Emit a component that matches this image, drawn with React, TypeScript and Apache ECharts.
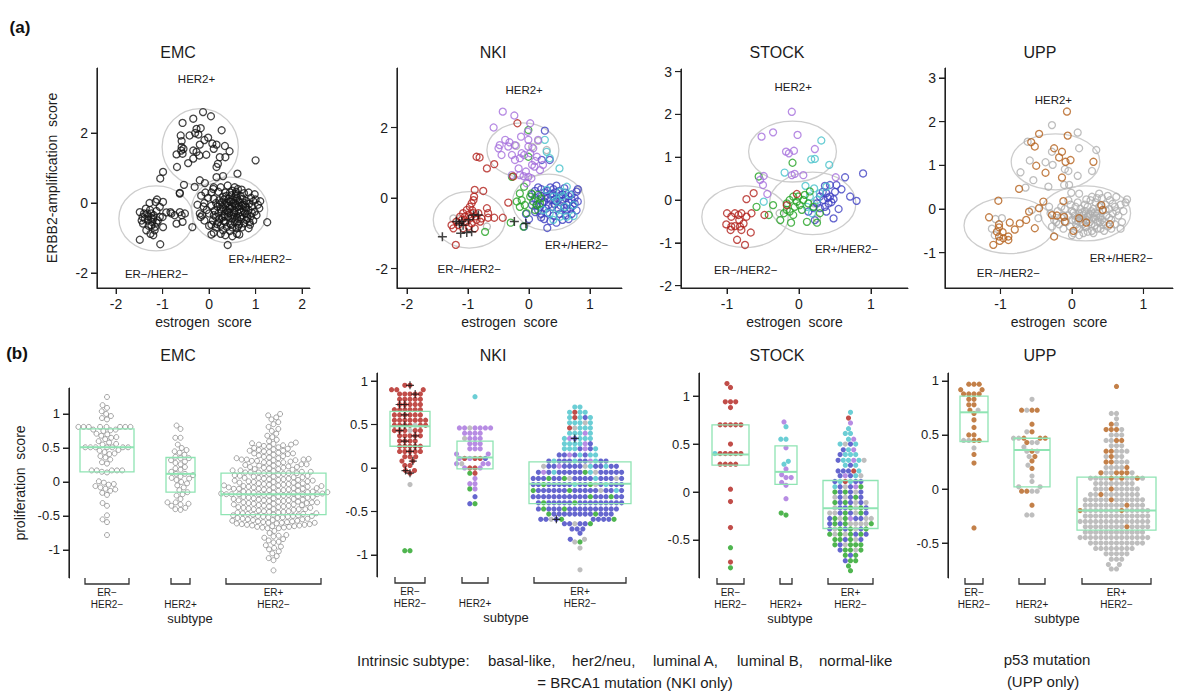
import React, { useEffect, useRef } from "react";
import * as echarts from "echarts";

const FONT = "'Liberation Sans', Arial, Helvetica, sans-serif";

// ================= DATA: top row (x = estrogen score, y = ERBB2-amplification score) =================
const emcTopPoints: number[][] = [
  [-0.13,2.6],[0.04,2.48],[-0.34,2.41],[-0.57,2.29],[0.27,2.08],[-0.27,2.12],[-0.18,2.14],[-0.42,1.93],[-0.23,1.96],[-0.02,1.87],
  [-0.61,1.93],[-0.59,1.77],[-0.59,1.6],[0.07,1.7],[0.16,1.67],[0.34,1.63],[-0.2,1.67],[-0.34,1.5],[-0.27,1.46],[0.44,1.48],
  [-0.57,1.41],[-0.7,1.39],[-0.21,1.36],[-0.06,1.38],[0.23,1.31],[0.35,1.31],[-0.45,1.14],[-0.34,1.27],[0.19,1.12],[0.16,1.03],
  [-0.69,1.03],[1.0,1.22],[-0.99,0.89],[-1.05,0.7],[0.3,0.77],[0.61,0.84],[0.16,0.74],[-0.2,0.65],[-0.09,0.57],[-0.54,0.52],
  [-0.31,0.46],[0.09,0.4],[-0.63,0.29],[-0.17,0.21],[-0.6,1.5],[-0.55,1.55],[-0.3,2.0],[-0.1,1.8],[0.1,1.55],
  [-1.28,0],[-1.12,0.1],[-1.15,0.03],[-1.36,-0.16],[-1.49,-0.26],[-1.4,-0.3],[-1.24,-0.3],[-1.13,-0.23],[-1.06,-0.11],[-1.2,-0.45],
  [-1.31,-0.5],[-1.42,-0.59],[-1.13,-0.56],[-1.24,-0.64],[-1.35,-0.78],[-1.26,-0.88],[-1.49,-1.05],[-1.05,-1.18],[-1.2,-0.92],[-0.99,-0.69],
  [-1.0,-0.4],[-0.92,-0.27],[-0.83,-0.26],[-0.74,-0.35],[-0.63,-0.26],[-0.59,-0.35],[-0.52,-0.3],[-0.57,-0.54],[-0.7,-0.59],[-0.36,-0.69],
  [-0.63,0.27],[-0.99,0.03],[-1.38,-0.45],[-1.31,-0.38],[-1.19,-0.35],[-1.1,-0.5],[-1.43,-0.4],[-1.17,-0.78],[-1.06,-0.4],[-0.81,-0.3],
  [-1.27,-0.2],[-1.22,-0.55],[-1.3,-0.65],[-1.16,-0.68],[-1.33,-0.3],[-1.25,-0.42],[-1.45,-0.5],
  [0.2,0.32],[0.35,0.3],[0.5,0.35],[0.62,0.4],[0.75,0.28],[0.85,0.3],[0.48,0.22],[0.58,0.25],[0.3,0.18],[0.68,0.2],[0.9,0.15],[1.0,0.1],
  [0.1,0.12],[0.22,0.08],[0.32,0.1],[0.42,0.12],[0.52,0.1],[0.62,0.08],[0.72,0.12],[0.8,0.06],[0.95,0.05],[0.15,0.0],[0.27,0.02],[0.38,0.0],
  [0.47,0.03],[0.56,-0.01],[0.66,0.02],[0.76,0.0],[0.86,-0.02],[1.05,-0.05],
  [0.05,-0.08],[0.18,-0.1],[0.3,-0.12],[0.41,-0.08],[0.5,-0.1],[0.6,-0.12],[0.7,-0.08],[0.8,-0.13],[0.92,-0.1],[1.08,-0.15],[0.25,-0.18],
  [0.36,-0.2],[0.45,-0.17],[0.55,-0.22],[0.65,-0.18],[0.75,-0.22],[0.85,-0.2],[0.98,-0.25],[0.12,-0.22],
  [0.0,-0.3],[0.2,-0.3],[0.33,-0.32],[0.43,-0.28],[0.52,-0.33],[0.63,-0.3],[0.72,-0.35],[0.82,-0.32],[0.9,-0.38],[1.02,-0.35],[0.15,-0.4],
  [0.28,-0.42],[0.4,-0.4],[0.5,-0.45],[0.6,-0.42],[0.7,-0.45],[0.8,-0.48],[0.95,-0.5],[0.08,-0.5],
  [0.2,-0.55],[0.32,-0.52],[0.45,-0.58],[0.55,-0.55],[0.65,-0.6],[0.75,-0.58],[0.88,-0.62],[0.25,-0.65],[0.38,-0.68],[0.5,-0.7],[0.6,-0.72],
  [0.7,-0.7],[0.15,-0.7],[0.05,-0.62],[0.3,-0.78],[0.45,-0.8],
  [-0.2,-0.3],[-0.18,-0.4],[-0.12,-0.1],[-0.1,0.0],[-0.05,-0.2],[-0.25,-0.05],[-0.15,-0.35],[-0.08,0.3],[-0.02,0.15],[0.05,0.3],[0.1,0.45],
  [0.25,0.45],[0.4,0.5],[0.55,0.45],[0.7,0.38],[0.45,0.3],[0.52,0.0],[0.58,-0.05],[0.35,-0.05],[0.6,0.15],[0.4,-0.25],[0.48,-0.35],
  [0.68,-0.25],[0.78,-0.1],[0.55,-0.4],[0.35,-0.55],[0.62,-0.52],[0.82,-0.42],[0.22,-0.45],[0.1,-0.35],
  [0.4,-1.2],[0.5,-0.95],[0.25,-0.88],[0.6,-0.88],[0.85,-0.72],[0.1,-0.85],[0.05,-0.9],[1.25,-0.55],[1.1,0.05],[0.98,0.25],[0.0,-0.65],
  [-0.1,-0.5],[0.65,-0.9],[0.35,-0.92],[0.44,0.05],[0.64,-0.08],[0.54,-0.28],[0.74,-0.05],[0.33,-0.38],[0.57,0.2],[0.87,-0.55],[0.23,-0.04],
  [0.37,0.2],[0.67,-0.4],[0.47,-0.62],[0.27,-0.25],[0.77,-0.3],[0.58,0.32],[0.17,-0.6],[0.92,-0.28],[0.43,-0.13],[0.63,-0.65]
];

const nkiTopHer2: number[][] = [
  [-0.43,2.45],[-0.24,2.34],[-0.58,2.0],[0.02,2.12],[-0.02,1.88],[-0.13,1.74],[-0.01,1.65],[-0.39,1.65],[-0.32,1.58],[-0.48,1.5],
  [-0.5,1.41],[-0.45,1.22],[-0.28,1.22],[-0.23,1.5],[-0.12,1.27],[-0.08,1.22],[-0.15,1.13],[-0.01,1.46],[0.07,1.41],[0.02,1.27],
  [0.05,0.94],[0.09,0.89],[0.18,0.79],[0.23,0.94],[-0.17,0.84],[-0.15,0.65],[-0.09,0.62],[-0.01,0.6],[0.04,0.56],[-0.04,0.42],
  [-0.28,0.65],[-0.23,1.08],[0.13,1.17],[-0.34,1.46],[0.15,1.65],[0.1,1.05],[-0.05,0.75]
];
const nkiTopBasal: number[][] = [
  [-0.19,2.12],[-0.86,1.17],[-0.81,1.15],[-0.69,0.84],[-0.57,0.96],[-0.26,0.61],[-0.34,-0.13],[-0.89,0.23],[-0.75,0.2],[-0.9,0.04],
  [-0.91,-0.06],[-0.94,-0.15],[-0.97,-0.25],[-0.69,-0.29],[-0.67,-0.43],[-1.02,-0.34],[-1.08,-0.43],[-1.13,-0.53],[-0.99,-0.48],[-0.91,-0.43],
  [-0.83,-0.43],[-0.78,-0.58],[-0.67,-0.56],[-0.57,-0.56],[-0.43,-0.56],[-0.86,-0.62],[-0.94,-0.72],[-1.02,-0.67],[-1.1,-0.62],[-1.19,-0.67],
  [-1.24,-0.86],[-1.16,-0.77],[-1.08,-0.86],[-0.99,-0.81],[-0.89,-0.86],[-0.8,-0.67],[-1.2,-1.33],[-1.27,-0.77],[-1.05,-0.53],[-0.97,-0.58],
  [-0.93,-0.35],[-0.88,-0.52]
];
const nkiTopNormal: number[][] = [
  [-0.01,1.93],[-0.01,1.17],[-0.28,0.6],[-0.08,0.32],[-0.15,0.13],[-0.72,-0.96],[-0.3,-0.7],[-0.12,-0.06],[-0.07,-0.2],[0.02,0.04],
  [0.07,-0.1],[0.13,-0.2],[0.18,-0.15],[-0.15,-0.25],[-0.04,-0.43],[0.1,-0.34],[0.15,0.09],[0.2,-0.01],[-0.09,-0.81],[0.04,0.13],[-0.2,-0.1]
];
const nkiTopLumB: number[][] = [
  [0.26,1.65],[0.29,1.31],[0.34,1.13],[0.5,0.84],[0.4,0.04],[0.45,-0.06],[0.59,-0.25],[0.51,-0.53],[0.4,-0.62],[0.62,-0.53],
  [0.73,-0.51],[0.67,0.09],[0.73,-0.2],[0.29,0.23],[0.62,0.32],[0.34,-0.43],[0.51,0.18],[0.23,-0.34],[0.55,0.05],[0.47,-0.3]
];
const nkiTopLumA: number[][] = [
  [0.26,1.91],[0.21,1.08],[0.34,1.08],[-0.08,-0.81],
  [0.05,0.1],[0.1,0.2],[0.15,0.3],[0.2,0.25],[0.25,0.15],[0.3,0.2],[0.35,0.1],[0.4,0.25],[0.45,0.15],[0.5,0.2],[0.55,0.1],[0.6,0.15],
  [0.65,0.05],[0.7,0.1],[0.78,0.18],[0.1,0.0],[0.15,-0.05],[0.2,0.05],[0.25,-0.1],[0.3,0.0],[0.35,-0.05],[0.4,0.05],[0.45,-0.1],[0.5,0.0],
  [0.55,-0.08],[0.6,0.0],[0.65,-0.12],[0.7,-0.05],[0.75,0.0],[0.8,-0.1],[0.12,-0.2],[0.18,-0.25],[0.22,-0.15],[0.28,-0.3],[0.32,-0.2],
  [0.38,-0.25],[0.42,-0.18],[0.48,-0.3],[0.52,-0.22],[0.58,-0.28],[0.62,-0.2],[0.68,-0.3],[0.72,-0.22],[0.78,-0.35],[0.1,-0.4],[0.2,-0.45],
  [0.3,-0.42],[0.4,-0.5],[0.5,-0.45],[0.6,-0.5],[0.7,-0.45],[0.25,-0.6],[0.35,-0.65],[0.45,-0.7],[0.55,-0.62],[0.65,-0.6],[0.3,-0.85],
  [0.2,-0.55],[0.0,-0.6],[-0.05,-0.45],[0.45,0.35],[0.35,0.3],[0.58,0.28],[0.05,-0.2],[0.42,-0.05],[0.52,0.08],[0.28,0.05],[0.38,0.12],
  [0.62,-0.35],[0.15,-0.35],[0.8,0.25],[0.75,-0.15]
];
const nkiTopUnclass: number[][] = [
  [-0.21,1.48],[0.15,1.62],[0.29,1.36],[-1.24,-0.58],[-0.69,-0.81],[0.4,-0.15],[0.51,-0.1],[0.81,0.23],[0.18,-0.48],[-1.15,-0.6],[0.05,1.45]
];
const nkiTopBrca1: number[][] = [
  [-1.42,-1.1],[-1.19,-0.67],[-1.14,-0.72],[-1.1,-0.67],[-1.08,-0.77],[-1.12,-1.0],[-1.02,-0.98],[-0.94,-0.96],[-0.91,-0.48],[-0.83,-0.48],
  [-0.99,-0.62],[-0.24,-0.67],[-0.05,-0.72]
];

const stockTopHer2: number[][] = [
  [-0.1,2.06],[-0.52,1.48],[-0.36,1.58],[-0.02,1.52],[0.22,1.19],[-0.18,1.13],[-0.14,1.09],[-0.07,1.15],[-0.1,0.58],[-0.06,0.61],
  [0.06,0.58],[-0.49,0.56],[-0.54,0.47],[-0.5,0.35],[-0.44,0.14],[0.51,0.53]
];
const stockTopLumB: number[][] = [
  [0.31,1.39],[0.17,0.95],[0.22,0.96],[0.42,0.82],[-0.2,0.64],[0.09,0.33],[0.21,0.27],[-0.49,-0.04],[0.15,0.08],[0.25,0.0],
  [0.29,0.16],[0.11,-0.16],[0.18,-0.31],[0.38,0.31]
];
const stockTopNormal: number[][] = [
  [-0.09,0.87],[-0.56,0.55],[-0.59,-0.16],[-0.36,-0.12],[-0.42,-0.35],[-0.26,-0.47],[-0.17,-0.08],[-0.13,0.0],[-0.08,0.08],[-0.03,-0.04],
  [0.01,-0.12],[0.06,0.0],[0.08,0.12],[-0.13,-0.27],[-0.08,-0.35],[-0.11,-0.53],[0.11,-0.51],[0.25,-0.53],[0.29,-0.31],[-0.17,-0.23],
  [0.04,-0.23],[-0.06,-0.16],[0.13,-0.08],[-0.01,0.08],[0.2,-0.16],[-0.21,-0.31],[0.15,0.2]
];
const stockTopBasal: number[][] = [
  [-0.63,0.16],[-0.73,0.02],[-1.0,-0.31],[-0.89,-0.31],[-0.84,-0.35],[-0.8,-0.31],[-0.66,-0.31],[-0.73,-0.39],[-0.94,-0.39],[-0.83,-0.47],
  [-0.77,-0.55],[-1.01,-0.57],[-0.94,-0.62],[-0.89,-0.61],[-0.82,-0.62],[-0.95,-0.7],[-0.8,-0.7],[-0.67,-0.76],[-0.86,-0.93],[-0.75,-1.05],
  [-0.48,-0.35],[-0.17,-0.12],[-0.03,0.14]
];
const stockTopLumA: number[][] = [
  [0.36,0.33],[0.43,0.35],[0.52,0.35],[0.59,0.25],[0.64,0.53],[0.71,0.08],[0.8,-0.02],[0.55,-0.21],[0.48,-0.43],[0.38,0.16],
  [0.29,0.08],[0.34,0.0],[0.41,-0.08],[0.25,-0.08],[0.36,-0.16],[0.29,-0.19],[0.2,-0.19],[0.43,0.08],[0.48,0.02],[0.38,-0.27],
  [0.13,-0.27],[0.22,-0.47],[0.5,0.19],[0.33,0.19],[0.89,0.62],[0.45,-0.05],[0.4,0.05]
];
const stockTopUnclass: number[][] = [[-0.27,-0.31],[0.21,-0.08],[0.25,-0.43]];

const uppTopP53: number[][] = [
  [-0.07,2.23],[-0.46,1.72],[-0.06,1.68],[-0.57,1.53],[-0.52,1.43],[-0.25,1.39],[-0.14,1.31],[-0.18,1.18],[-0.09,1.08],[-0.02,1.12],
  [-0.5,0.99],[0.3,1.08],[-0.37,0.83],[-0.14,0.72],[-0.74,0.46],[-0.4,0.17],[-0.12,0.18],[-1.03,0.19],[-1.16,-0.19],[-1.02,-0.35],
  [-1.02,-0.42],[-0.97,-0.53],[-1.05,-0.52],[-1.02,-0.63],[-0.96,-0.67],[-0.89,-0.63],[-0.87,-0.31],[-0.8,-0.47],[-0.89,-0.71],[-1.01,-0.73],
  [-1.1,-0.82],[-0.73,-0.33],[-0.64,-0.25],[-0.52,-0.44],[-0.6,-0.06],[-0.46,0.02],[-0.28,-0.14],[-0.21,-0.15],[-0.25,-0.63],[-0.11,-0.18],
  [-0.1,-0.29],[0.02,-0.5],[0.1,-0.21],[0.2,-0.31],[0.41,0.09],[0.43,-0.02],[0.53,-0.35]
];
const uppTopWild: number[][] = [
  [-0.28,1.92],[0.08,1.75],[-0.62,1.54],[-0.28,1.31],[0.1,1.39],[0.34,1.35],[-0.59,1.11],[-0.37,1.07],[-0.27,1.01],[-0.1,0.91],
  [-0.05,0.87],[-0.72,0.84],[0.28,0.87],[0.08,0.76],[-0.54,0.66],[-0.33,0.51],[-0.65,0.49],[-0.11,0.55],[-0.04,0.55],[-0.01,0.37],
  [-0.56,-0.02],[-0.47,-0.21],[-1.07,-0.23],[-0.98,-0.21],[-1.08,-0.6],[-0.32,0.05],[-1.12,-0.45],
  [-0.3,-0.1],[-0.25,-0.25],[-0.2,-0.05],[-0.18,-0.35],[-0.15,-0.2],[-0.12,-0.45],[-0.1,0.0],[-0.08,-0.3],[-0.05,-0.15],[-0.03,-0.4],
  [0.0,-0.05],[0.0,-0.25],[0.02,-0.55],[0.04,-0.15],[0.05,0.05],[0.06,-0.35],[0.08,-0.2],[0.1,-0.1],[0.1,-0.45],[0.12,0.0],[0.13,-0.3],
  [0.15,-0.15],[0.16,-0.55],[0.18,0.1],[0.18,-0.05],[0.2,-0.25],[0.2,-0.4],[0.22,0.05],[0.23,-0.15],[0.25,-0.3],[0.26,0.2],[0.27,-0.05],
  [0.28,-0.5],[0.3,0.0],[0.3,-0.2],[0.32,-0.38],[0.33,0.15],[0.35,-0.1],[0.36,-0.28],[0.38,0.05],[0.4,-0.18],[0.4,-0.45],[0.42,0.25],
  [0.43,-0.05],[0.45,-0.3],[0.47,0.1],[0.48,-0.15],[0.5,-0.4],[0.52,0.0],[0.53,0.2],[0.55,-0.25],[0.57,-0.1],[0.6,0.05],[0.6,-0.35],
  [0.62,0.28],[0.65,-0.15],[0.68,0.1],[0.7,-0.3],[0.72,-0.05],[0.75,0.15],[0.77,0.22],[0.68,-0.45],[0.05,-0.25],[0.15,-0.35],[0.25,-0.12],
  [0.35,-0.45],[0.45,-0.5],[0.08,0.15],[0.28,0.28],[0.38,0.35],[0.5,0.3],[0.02,-0.08],[0.12,-0.22],[0.22,-0.18],[0.32,-0.08],[0.42,-0.25],
  [0.52,-0.2],[0.17,-0.12],[0.27,-0.35],[0.37,-0.2],[0.47,-0.02],[0.57,0.12],[0.07,-0.42],[-0.02,0.1],[-0.12,-0.15],[-0.22,-0.3],[0.0,-0.6],
  [0.1,-0.6],[0.3,-0.55],[0.55,-0.45],[-0.05,0.2],[0.2,0.22],[0.4,0.08],[0.62,-0.05],[0.1,0.35],[0.22,-0.52],[-0.15,0.05],[-0.28,-0.4],
  [0.35,0.25],[0.14,-0.08],[0.24,-0.24],[0.34,-0.16],[0.44,-0.36],[0.19,-0.42],[0.09,-0.28],[0.29,-0.1],[0.39,-0.3]
];

// ================= DATA: bottom row (proliferation score by subtype group) =================
const emcErNeg: number[] = [
  1.25,1.13,1.09,1.04,1.00,0.97,0.94,0.92,
  0.81,0.81,0.81,0.81,0.81,0.81,0.81,0.81,
  0.77,0.77,0.76,0.75,
  0.71,0.70,0.68,0.66,0.65,0.63,0.60,0.58,0.56,0.55,
  0.51,0.51,0.51,0.51,0.51,0.51,0.51,
  0.47,0.46,0.44,0.42,0.41,0.38,0.36,0.33,0.29,0.27,
  0.17,0.17,0.17,0.17,0.17,0.15,0.14,
  0.01,-0.01,-0.03,-0.04,-0.06,-0.08,-0.10,-0.11,-0.13,
  -0.16,-0.19,-0.31,-0.35,-0.49,-0.55,-0.59,-0.78
];
const emcHer2: number[] = [
  0.83,0.78,0.65,0.65,0.55,0.50,0.47,0.45,0.43,0.40,0.37,0.35,0.35,0.32,0.30,0.28,0.26,0.22,0.20,0.18,0.15,0.12,0.12,
  0.10,0.08,0.06,0.05,0.03,0.00,-0.02,-0.05,-0.08,-0.12,-0.15,-0.18,-0.20,-0.25,-0.30,-0.30,-0.32,-0.33,-0.35,-0.38,-0.40,-0.41
];
const emcErPos: number[] = [
  1.00,0.98,0.95,0.92,0.88,0.85,0.81,0.78,0.75,0.71,0.68,0.66,0.62,0.60,
  0.58,0.57,0.56,0.55,0.55,0.54,0.53,0.52,0.51,0.50,
  0.49,0.48,0.47,0.46,0.46,0.45,0.44,0.43,0.42,0.42,0.41,0.40,
  0.39,0.38,0.37,0.36,0.35,0.35,0.34,0.33,0.33,0.33,0.32,0.32,0.31,0.31,0.30,
  0.29,0.29,0.28,0.27,0.26,0.26,0.25,0.24,0.24,0.23,0.22,0.22,0.21,0.21,0.20,
  0.19,0.19,0.18,0.17,0.17,0.16,0.15,0.15,0.14,0.14,0.14,0.13,0.13,0.13,0.12,0.12,0.11,0.10,
  0.09,0.09,0.08,0.08,0.07,0.07,0.06,0.06,0.05,0.05,0.04,0.04,0.03,0.03,0.02,0.02,0.01,0.01,0.00,0.00,
  -0.01,-0.01,-0.02,-0.02,-0.03,-0.03,-0.04,-0.04,-0.05,-0.05,-0.05,-0.06,-0.06,-0.07,-0.07,-0.08,-0.08,-0.08,-0.09,-0.09,-0.10,-0.10,-0.10,-0.10,
  -0.11,-0.11,-0.12,-0.12,-0.13,-0.13,-0.14,-0.14,-0.15,-0.15,-0.15,-0.16,-0.16,-0.17,-0.17,-0.17,-0.18,-0.18,-0.18,-0.18,-0.18,-0.18,-0.19,-0.19,-0.20,-0.20,
  -0.21,-0.21,-0.22,-0.22,-0.23,-0.23,-0.24,-0.24,-0.25,-0.25,-0.26,-0.26,-0.27,-0.27,-0.27,-0.28,-0.28,-0.29,-0.29,-0.30,-0.30,-0.30,
  -0.31,-0.31,-0.32,-0.32,-0.33,-0.33,-0.34,-0.34,-0.35,-0.35,-0.36,-0.36,-0.37,-0.37,-0.38,-0.38,-0.39,-0.40,-0.40,
  -0.40,-0.40,-0.41,-0.42,-0.43,-0.43,-0.44,-0.44,-0.45,-0.45,-0.46,-0.46,-0.47,-0.47,-0.48,-0.48,-0.49,-0.49,-0.50,-0.50,-0.50,
  -0.51,-0.51,-0.52,-0.52,-0.53,-0.53,-0.54,-0.54,-0.55,-0.55,-0.56,-0.56,-0.57,-0.57,-0.58,-0.58,-0.59,-0.59,-0.60,-0.60,-0.60,
  -0.61,-0.61,-0.62,-0.62,-0.63,-0.63,-0.64,-0.64,-0.65,-0.65,-0.66,-0.66,-0.67,-0.67,-0.68,-0.68,
  -0.72,-0.75,-0.78,-0.79,-0.80,-0.82,-0.84,-0.86,-0.88,-0.89,-0.93,-0.95,-0.97,-0.99,-1.02,-1.05,-1.09,-1.12,-1.15,-1.30
];
// Rows: [value, one letter per sample at that value]
// r basal-like, p her2/neu, b luminal A, c luminal B, g normal-like, u unclassified, o p53 mutation;
// capital R / B = basal-like / luminal A sample with BRCA1 mutation
type Row = [number, string];
const nkiErNeg: Row[] = [
  [0.95,"Rr"],[0.90,"rrr"],[0.85,"rrRrr"],[0.79,"rrrrr"],[0.73,"rRrRr"],[0.67,"rrrrrr"],[0.61,"rRrrrr"],[0.55,"rrrrrrr"],
  [0.49,"rRurrrr"],[0.43,"urrRrr"],[0.37,"rrRrr"],[0.31,"rRrr"],[0.25,"rrRrr"],[0.19,"Rrrrr"],[0.13,"rrr"],[0.08,"Rr"],
  [0.03,"rr"],[-0.03,"Rr"],[-0.06,"R"],[-0.19,"u"],[-0.95,"gg"]
];
const nkiHer2: Row[] = [
  [0.82,"c"],[0.46,"puppppp"],[0.40,"pppp"],[0.34,"pppu"],[0.28,"ppp"],[0.22,"ppp"],[0.16,"pp"],[0.11,"rprrbp"],[0.05,"pupp"],
  [0.00,"rrpp"],[-0.06,"rg"],[-0.12,"p"],[-0.18,"pp"],[-0.24,"pg"],[-0.33,"b"],[-0.41,"gb"]
];
const nkiErPos: Row[] = [
  [0.70,"cc"],[0.64,"crcc"],[0.58,"crbcc"],[0.52,"ccucc"],[0.46,"cucrc"],[0.40,"ccpcc"],[0.34,"cBcpcc"],[0.28,"ccpcbc"],
  [0.22,"bcpcbcc"],[0.15,"cbbpcbcb"],[0.08,"bcbbpbcbbcbb"],[0.02,"bbubcbbpbbcbbub"],[-0.05,"bbgbcbubbcbbbpbbb"],
  [-0.12,"bbbubgcbbbbgbbubbb"],[-0.19,"bcbbgbubbbcbbgbbbb"],[-0.26,"bbbgbbbbubbbbbcbbg"],[-0.33,"bbbbgbbbbbbbgbbbbb"],
  [-0.40,"bgbbbbbbbbbbbgbbb"],[-0.47,"bbbbbgbbbbbbbgbb"],[-0.53,"bbbbbbgbbbbgb"],[-0.59,"bgbBbubbgb"],[-0.64,"bubbgb"],
  [-0.70,"bbb"],[-0.75,"b"],[-0.82,"ub"],[-0.85,"gu"],[-0.92,"u"],[-1.17,"u"]
];
const stockErNeg: Row[] = [
  [1.13,"r"],[1.09,"r"],[0.94,"rrr"],[0.88,"r"],[0.70,"rrrrr"],[0.50,"r"],[0.40,"rrrrrc"],[0.29,"rrrr"],[0.03,"r"],[-0.10,"r"],
  [-0.37,"r"],[-0.58,"g"],[-0.73,"r"],[-0.79,"g"]
];
const stockHer2: Row[] = [
  [0.73,"p"],[0.68,"c"],[0.55,"cc"],[0.46,"p"],[0.32,"c"],[0.29,"c"],[0.24,"p"],[0.18,"p"],[0.15,"pp"],[0.10,"p"],[0.07,"p"],
  [-0.07,"p"],[-0.22,"g"],[-0.24,"g"]
];
const stockErPos: Row[] = [
  [0.83,"c"],[0.77,"r"],[0.72,"p"],[0.66,"c"],[0.61,"cc"],[0.55,"cp"],[0.50,"bucc"],[0.44,"cpb"],[0.39,"cccb"],[0.33,"cpccbu"],
  [0.28,"bcc"],[0.22,"brbcb"],[0.17,"bpcbu"],[0.11,"crbcbb"],[0.055,"bupbgc"],[0.00,"bgubbg"],[-0.055,"bugbbu"],[-0.11,"bgubbgu"],
  [-0.165,"gbubgub"],[-0.22,"bgubgubu"],[-0.275,"pgbubgubu"],[-0.33,"ugubugubg"],[-0.385,"gbugbugb"],[-0.44,"gubggubg"],
  [-0.495,"gbugbg"],[-0.55,"gugbgg"],[-0.605,"ggubg"],[-0.66,"bgg"],[-0.715,"gbg"],[-0.77,"g"],[-0.82,"g"]
];
const uppErNeg: Row[] = [
  [0.97,"ooo"],[0.92,"oo"],[0.88,"oooo"],[0.83,"oo"],[0.78,"oo"],[0.73,"ou"],[0.70,"o"],[0.64,"o"],[0.57,"o"],[0.50,"oo"],
  [0.45,"ouou"],[0.38,"u"],[0.32,"o"],[0.24,"o"],[-0.36,"o"]
];
const uppHer2: Row[] = [
  [0.83,"u"],[0.73,"ouoo"],[0.60,"o"],[0.53,"ou"],[0.47,"oouou"],[0.43,"uou"],[0.39,"u"],[0.35,"ouu"],[0.30,"uo"],[0.26,"o"],
  [0.22,"u"],[0.19,"o"],[0.12,"u"],[0.07,"u"],[0.02,"uu"],[-0.02,"uouo"],[-0.15,"o"],[-0.24,"uu"]
];
const uppErPos: Row[] = [
  [0.95,"o"],[0.70,"uu"],[0.65,"u"],[0.60,"uo"],[0.55,"oouo"],[0.50,"uuu"],[0.45,"ouou"],[0.40,"uuu"],[0.35,"uouou"],
  [0.30,"uouu"],[0.25,"uouou"],[0.20,"uuuuo"],[0.15,"ououoou"],[0.10,"uoouuuuuouu"],[0.05,"uuuuuuuu"],[0.00,"uouuuuuuu"],
  [-0.05,"uuuuuouuuu"],[-0.10,"uouuuuuuuuuu"],[-0.15,"uuuuouuuuuuu"],[-0.20,"uuouuuuuuuuuuo"],[-0.25,"uuuuuuuuuuuuu"],
  [-0.30,"uuuuuuuuuuuuuu"],[-0.35,"uuuuouuuuuuuu"],[-0.40,"uuuuuuuuuuuu"],[-0.45,"uuuuuuuuuuuuuu"],[-0.50,"uuuuuuuuuuu"],
  [-0.55,"uuuuuuuu"],[-0.60,"uuuuu"],[-0.65,"uuu"],[-0.70,"uu"],[-0.74,"uu"]
];

// Box statistics: [lower quartile, median, upper quartile]
const emcBoxes: number[][] = [[0.15,0.51,0.78],[-0.15,0.12,0.36],[-0.48,-0.18,0.13]];
const nkiBoxes: number[][] = [[0.25,0.48,0.65],[-0.01,0.12,0.31],[-0.41,-0.18,0.07]];
const stockBoxes: number[][] = [[0.28,0.39,0.70],[0.08,0.21,0.48],[-0.38,-0.17,0.12]];
const uppBoxes: number[][] = [[0.44,0.71,0.86],[0.02,0.36,0.47],[-0.38,-0.20,0.11]];

// Ellipses: [centre x, centre y, radius x, radius y] (data units)
const emcEllipses: number[][] = [[-0.19,1.6,0.82,1.1],[-1.14,-0.44,0.8,0.93],[0.44,-0.2,0.82,0.94]];
const nkiEllipses: number[][] = [[-0.10,1.36,0.59,0.77],[-0.98,-0.62,0.59,0.8],[0.32,-0.12,0.59,0.8]];
const stockEllipses: number[][] = [[-0.09,1.13,0.61,0.71],[-0.75,-0.39,0.6,0.72],[0.19,-0.08,0.6,0.73]];
const uppEllipses: number[][] = [[-0.23,1.08,0.62,0.64],[-0.88,-0.38,0.63,0.64],[0.19,-0.1,0.63,0.63]];

// Region label anchors (data units), in order HER2+, ER-/HER2-, ER+/HER2-
const regionLabels = ["HER2+", "ER\u2212/HER2\u2212", "ER+/HER2\u2212"];
const emcRegionPos: number[][] = [[-0.27,3.55],[-1.13,-2.04],[1.1,-1.59]];
const nkiRegionPos: number[][] = [[-0.08,3.06],[-0.98,-2.0],[0.78,-1.33]];
const stockRegionPos: number[][] = [[-0.08,2.65],[-0.74,-1.64],[0.66,-1.15]];
const uppRegionPos: number[][] = [[-0.26,2.5],[-0.89,-1.47],[0.69,-1.11]];

// Tick labels
const emcTopXTicks = [-2,-1,0,1,2];
const nkiTopXTicks = [-2,-1,0,1];
const stockTopXTicks = [-1,0,1];
const uppTopXTicks = [-1,0,1];
const emcTopYTicks = [-2,0,2];
const nkiTopYTicks = [-2,0,2];
const stockTopYTicks = [-2,-1,0,1,2,3];
const uppTopYTicks = [-1,0,1,2,3];
const emcBotYTicks = [-1,-0.5,0,0.5,1];
const nkiBotYTicks = [-1,-0.5,0,0.5,1];
const stockBotYTicks = [-0.5,0,0.5,1];
const uppBotYTicks = [-0.5,0,0.5,1];

const datasetNames = ["EMC", "NKI", "STOCK", "UPP"];
const groupLabelTop = ["ER\u2212", "", "ER+"];
const groupLabelBottom = ["HER2\u2212", "HER2+", "HER2\u2212"];

// ================= STYLE / LAYOUT =================
const COL: Record<string, string> = {
  k: "#151515", r: "#b2201c", p: "#a56fdc", b: "#3e40c2", c: "#46c2cb", g: "#23a323", u: "#aeaeae", o: "#b4601c",
};
const BOX_COLOR = "#8fe4b3";
const AXIS_COLOR = "#222222";
const TEXT_COLOR = "#1c1c1c";
const PLUS = "path://M0,5L10,5M5,0L5,10";

const TOP_LAYOUT = [
  { left: 97, top: 68, width: 213, height: 220, xMin: -2.41, xMax: 2.17, yMin: -2.43, yMax: 3.86 },
  { left: 397, top: 68, width: 225, height: 220, xMin: -2.164, xMax: 1.525, yMin: -2.553, yMax: 3.688 },
  { left: 681, top: 69, width: 227, height: 219, xMin: -1.639, xMax: 1.514, yMin: -2.056, yMax: 3.06 },
  { left: 945, top: 68, width: 228, height: 220, xMin: -1.776, xMax: 1.413, yMin: -1.808, yMax: 3.227 },
];
const BOT_LAYOUT = [
  { left: 69, top: 388, width: 242, height: 190, yMin: -1.412, yMax: 1.382, centers: [38, 111.5, 204.5], halfW: [27, 14.5, 52.5] },
  { left: 377, top: 373, width: 258, height: 204, yMin: -1.253, yMax: 1.092, centers: [33, 98, 203], halfW: [20, 18, 51] },
  { left: 699, top: 373, width: 182, height: 205, yMin: -0.896, yMax: 1.24, centers: [31.5, 87, 151.5], halfW: [18.5, 11, 27.5] },
  { left: 948, top: 373, width: 218, height: 205, yMin: -0.824, yMax: 1.074, centers: [26, 84, 168.5], halfW: [14, 18, 39.5] },
];
const TITLE_X = [178, 493, 777, 1040];
const DOT = 5.2;

// free texts: [x, y, text, size, align, bold]
const FREE_TEXTS: [number, number, string, number, string, boolean][] = [
  [20, 27, "(a)", 17, "center", true],
  [17, 353, "(b)", 17, "center", true],
  ...datasetNames.map((n, i) => [TITLE_X[i], 52, n, 16, "center", false] as [number, number, string, number, string, boolean]),
  ...datasetNames.map((n, i) => [TITLE_X[i], 355, n, 16, "center", false] as [number, number, string, number, string, boolean]),
  [357, 660, "Intrinsic subtype:", 15, "left", false],
  [488, 660, "basal-like,", 15, "left", false],
  [572, 660, "her2/neu,", 15, "left", false],
  [653, 660, "luminal A,", 15, "left", false],
  [737, 660, "luminal B,", 15, "left", false],
  [819, 660, "normal-like", 15, "left", false],
  [635, 682, "= BRCA1 mutation (NKI only)", 15, "center", false],
  [1047, 659, "p53 mutation", 15, "center", false],
  [1043, 681, "(UPP only)", 15, "center", false],
];

function expandRows(rows: Row[]) {
  const out: { v: number; c: string }[] = [];
  rows.forEach(([v, s]) => { for (const ch of s) out.push({ v, c: ch }); });
  return out;
}

// beeswarm "swarm" layout: horizontal pixel offsets so that points do not overlap
function swarm(vals: number[], pxPerUnit: number, d: number): number[] {
  const order = vals.map((_, i) => i).sort((a, b) => vals[a] - vals[b]);
  const px: number[] = [], py: number[] = [];
  const out = new Array(vals.length).fill(0);
  for (const i of order) {
    const y = vals[i] * pxPerUnit;
    const cands = [0];
    for (let j = 0; j < px.length; j++) {
      const dy = y - py[j];
      if (Math.abs(dy) < d) {
        const dx = Math.sqrt(d * d - dy * dy);
        cands.push(px[j] + dx, px[j] - dx);
      }
    }
    cands.sort((a, b) => Math.abs(a) - Math.abs(b) || a - b);
    let chosen = 0;
    for (const x of cands) {
      let ok = true;
      for (let j = 0; j < px.length; j++) {
        const dx = x - px[j], dy = y - py[j];
        if (dx * dx + dy * dy < d * d - 0.05) { ok = false; break; }
      }
      if (ok) { chosen = x; break; }
    }
    px.push(chosen); py.push(y); out[i] = chosen;
  }
  return out;
}

function textEl(x: number, y: number, text: string, size: number, extra: any = {}) {
  return {
    type: "text", x, y, silent: true,
    style: {
      text, fill: TEXT_COLOR, fontSize: size, fontFamily: FONT,
      align: "center", verticalAlign: "middle", textAlign: "center", textVerticalAlign: "middle", ...extra,
    },
  };
}

// axis line as a line series + tick marks as small rectangle symbols, all placed through the axes' scales
function axisSeries(gi: number, xMin: number, xMax: number, yMin: number, yMax: number, xTicks: number[] | null, yTicks: number[]) {
  const out: any[] = [];
  out.push({
    type: "line", xAxisIndex: gi, yAxisIndex: gi, clip: false, silent: true, z: 7, symbol: "none",
    data: xTicks ? [[xMin, yMax], [xMin, yMin], [xMax, yMin]] : [[xMin, yMax], [xMin, yMin]],
    lineStyle: { color: AXIS_COLOR, width: 1.2, type: "solid" },
  });
  out.push({
    type: "scatter", xAxisIndex: gi, yAxisIndex: gi, clip: false, silent: true, z: 7,
    data: yTicks.map((v) => [xMin, v]), symbol: "rect", symbolSize: [6, 1.2], symbolOffset: [-3, 0],
    itemStyle: { color: AXIS_COLOR },
  });
  if (xTicks) {
    out.push({
      type: "scatter", xAxisIndex: gi, yAxisIndex: gi, clip: false, silent: true, z: 7,
      data: xTicks.map((v) => [v, yMin]), symbol: "rect", symbolSize: [1.2, 6], symbolOffset: [0, 3],
      itemStyle: { color: AXIS_COLOR },
    });
  }
  return out;
}

function buildOption() {
  const grid: any[] = [], xAxis: any[] = [], yAxis: any[] = [], series: any[] = [];

  const topX = [emcTopXTicks, nkiTopXTicks, stockTopXTicks, uppTopXTicks];
  const topY = [emcTopYTicks, nkiTopYTicks, stockTopYTicks, uppTopYTicks];
  const ellipses = [emcEllipses, nkiEllipses, stockEllipses, uppEllipses];
  const regionPos = [emcRegionPos, nkiRegionPos, stockRegionPos, uppRegionPos];
  const topSets: { data: number[][]; col: string; plus?: boolean }[][] = [
    [{ data: emcTopPoints, col: COL.k }],
    [
      { data: nkiTopUnclass, col: COL.u }, { data: nkiTopLumA, col: COL.b }, { data: nkiTopLumB, col: COL.c },
      { data: nkiTopNormal, col: COL.g }, { data: nkiTopHer2, col: COL.p }, { data: nkiTopBasal, col: COL.r },
      { data: nkiTopBrca1, col: COL.k, plus: true },
    ],
    [
      { data: stockTopUnclass, col: COL.u }, { data: stockTopLumA, col: COL.b }, { data: stockTopLumB, col: COL.c },
      { data: stockTopNormal, col: COL.g }, { data: stockTopHer2, col: COL.p }, { data: stockTopBasal, col: COL.r },
    ],
    [{ data: uppTopWild, col: COL.u }, { data: uppTopP53, col: COL.o }],
  ];

  TOP_LAYOUT.forEach((L, i) => {
    const gi = grid.length;
    grid.push({ left: L.left, top: L.top, width: L.width, height: L.height });
    xAxis.push({
      gridIndex: gi, type: "value", min: L.xMin, max: L.xMax, splitLine: { show: false },
      axisLine: { show: true, onZero: false, lineStyle: { color: AXIS_COLOR, width: 1 } },
      axisTick: { show: true, length: 6, customValues: topX[i], lineStyle: { color: AXIS_COLOR, width: 1 } },
      axisLabel: { customValues: topX[i], fontSize: 14, color: TEXT_COLOR, margin: 9, fontFamily: FONT },
      name: "estrogen  score", nameLocation: "middle", nameGap: 27,
      nameTextStyle: { fontSize: 14, color: TEXT_COLOR, fontFamily: FONT },
    });
    yAxis.push({
      gridIndex: gi, type: "value", min: L.yMin, max: L.yMax, splitLine: { show: false },
      axisLine: { show: true, onZero: false, lineStyle: { color: AXIS_COLOR, width: 1 } },
      axisTick: { show: true, length: 6, customValues: topY[i], lineStyle: { color: AXIS_COLOR, width: 1 } },
      axisLabel: { customValues: topY[i], fontSize: 14, color: TEXT_COLOR, margin: 9, fontFamily: FONT },
      name: i === 0 ? "ERBB2-amplification  score" : "", nameLocation: "middle", nameGap: 38,
      nameTextStyle: { fontSize: 14, color: TEXT_COLOR, fontFamily: FONT },
    });
    series.push(...axisSeries(gi, L.xMin, L.xMax, L.yMin, L.yMax, topX[i], topY[i]));
    series.push({
      type: "custom", xAxisIndex: gi, yAxisIndex: gi, clip: false, silent: true, z: 1,
      data: ellipses[i],
      renderItem: (_p: any, api: any) => {
        const c = api.coord([api.value(0), api.value(1)]);
        const s = api.size([api.value(2), api.value(3)]);
        return { type: "ellipse", shape: { cx: c[0], cy: c[1], rx: s[0], ry: s[1] }, style: { fill: "none", stroke: "#cdcdcd", lineWidth: 1.3 } };
      },
    });
    series.push({
      type: "custom", xAxisIndex: gi, yAxisIndex: gi, clip: false, silent: true, z: 5,
      data: regionPos[i],
      renderItem: (p: any, api: any) => {
        const c = api.coord([api.value(0), api.value(1)]);
        return textEl(c[0], c[1], regionLabels[p.dataIndex], 11.5);
      },
    });
    topSets[i].forEach((set) => {
      series.push({
        type: "scatter", xAxisIndex: gi, yAxisIndex: gi, data: set.data, clip: false, silent: true, z: 3,
        symbol: set.plus ? PLUS : "circle", symbolSize: set.plus ? 9 : 7,
        itemStyle: { color: "rgba(0,0,0,0)", borderColor: set.col, borderWidth: set.plus ? 1.5 : 1.3 },
      });
    });
  });

  const botTicks = [emcBotYTicks, nkiBotYTicks, stockBotYTicks, uppBotYTicks];
  const boxes = [emcBoxes, nkiBoxes, stockBoxes, uppBoxes];
  const groupsAll = [
    [emcErNeg, emcHer2, emcErPos].map((g) => g.map((v) => ({ v, c: "e" }))),
    [nkiErNeg, nkiHer2, nkiErPos].map(expandRows),
    [stockErNeg, stockHer2, stockErPos].map(expandRows),
    [uppErNeg, uppHer2, uppErPos].map(expandRows),
  ];

  BOT_LAYOUT.forEach((L, i) => {
    const gi = grid.length;
    grid.push({ left: L.left, top: L.top, width: L.width, height: L.height });
    xAxis.push({
      gridIndex: gi, type: "value", min: 0, max: L.width, splitLine: { show: false },
      axisLine: { show: false, onZero: false }, axisTick: { show: false }, axisLabel: { show: false },
      name: "subtype", nameLocation: "middle", nameGap: 34,
      nameTextStyle: { fontSize: 13, color: TEXT_COLOR, fontFamily: FONT },
    });
    yAxis.push({
      gridIndex: gi, type: "value", min: L.yMin, max: L.yMax, splitLine: { show: false },
      axisLine: { show: true, onZero: false, lineStyle: { color: AXIS_COLOR, width: 1 } },
      axisTick: { show: true, length: 6, customValues: botTicks[i], lineStyle: { color: AXIS_COLOR, width: 1 } },
      axisLabel: { customValues: botTicks[i], fontSize: 13, color: TEXT_COLOR, margin: 9, fontFamily: FONT },
      name: i === 0 ? "proliferation  score" : "", nameLocation: "middle", nameGap: 42,
      nameTextStyle: { fontSize: 14, color: TEXT_COLOR, fontFamily: FONT },
    });
    series.push(...axisSeries(gi, 0, L.width, L.yMin, L.yMax, null, botTicks[i]));
    const pxPerUnit = L.height / (L.yMax - L.yMin);
    const byClass: Record<string, number[][]> = {};
    const plusPts: number[][] = [];
    groupsAll[i].forEach((pts, gIdx) => {
      const offs = swarm(pts.map((p) => p.v), pxPerUnit, DOT);
      pts.forEach((p, k) => {
        const x = L.centers[gIdx] + offs[k];
        const cls = p.c === "R" ? "r" : p.c === "B" ? "b" : p.c;
        (byClass[cls] = byClass[cls] || []).push([x, p.v]);
        if (p.c === "R" || p.c === "B") plusPts.push([x, p.v]);
      });
    });
    ["e", "u", "b", "c", "g", "p", "r", "o"].forEach((cls) => {
      if (!byClass[cls]) return;
      series.push({
        type: "scatter", xAxisIndex: gi, yAxisIndex: gi, data: byClass[cls], clip: false, silent: true, z: 3,
        symbol: "circle", symbolSize: cls === "e" ? 5 : DOT,
        itemStyle: cls === "e"
          ? { color: "rgba(0,0,0,0)", borderColor: "#8e8e8e", borderWidth: 1 }
          : { color: COL[cls], borderWidth: 0 },
      });
    });
    if (plusPts.length) {
      series.push({
        type: "scatter", xAxisIndex: gi, yAxisIndex: gi, data: plusPts, clip: false, silent: true, z: 4,
        symbol: PLUS, symbolSize: 8, itemStyle: { color: "rgba(0,0,0,0)", borderColor: "#111", borderWidth: 1.2 },
      });
    }
    series.push({
      type: "custom", xAxisIndex: gi, yAxisIndex: gi, clip: false, silent: true, z: 6,
      data: boxes[i].map((b, k) => [L.centers[k], L.halfW[k], b[0], b[1], b[2]]),
      renderItem: (_p: any, api: any) => {
        const cx = api.value(0), hw = api.value(1);
        const tl = api.coord([cx - hw, api.value(4)]);
        const br = api.coord([cx + hw, api.value(2)]);
        const m = api.coord([cx, api.value(3)]);
        return {
          type: "group", children: [
            { type: "rect", shape: { x: tl[0], y: tl[1], width: br[0] - tl[0], height: br[1] - tl[1] }, style: { fill: "none", stroke: BOX_COLOR, lineWidth: 1.3 } },
            { type: "line", shape: { x1: tl[0], y1: m[1], x2: br[0], y2: m[1] }, style: { stroke: BOX_COLOR, lineWidth: 2 } },
          ],
        };
      },
    });
    series.push({
      type: "custom", xAxisIndex: gi, yAxisIndex: gi, clip: false, silent: true, z: 6,
      data: L.centers.map((c, k) => [c, L.halfW[k]]),
      renderItem: (p: any, api: any) => {
        const cx = api.value(0), hw = api.value(1);
        const a = api.coord([cx - hw + 5, L.yMin]);
        const b = api.coord([cx + hw - 5, L.yMin]);
        const yb = a[1];
        const mid = (a[0] + b[0]) / 2;
        const kids: any[] = [
          { type: "polyline", shape: { points: [[a[0], yb], [a[0], yb + 6], [b[0], yb + 6], [b[0], yb]] }, style: { fill: "none", stroke: "#333", lineWidth: 1.3 } },
          textEl(mid, yb + 26, groupLabelBottom[p.dataIndex], 10),
        ];
        if (groupLabelTop[p.dataIndex]) kids.push(textEl(mid, yb + 14, groupLabelTop[p.dataIndex], 10));
        return { type: "group", children: kids };
      },
    });
  });

  // free texts (panel letters, titles, legend) as text elements of one custom series
  series.push({
    type: "custom", xAxisIndex: 0, yAxisIndex: 0, clip: false, silent: true, z: 8,
    data: FREE_TEXTS.map((_, k) => [0, 0, k]),
    renderItem: (p: any) => {
      const [x, y, t, size, align, bold] = FREE_TEXTS[p.dataIndex];
      return textEl(x, y, t, size, { align, textAlign: align, fontWeight: bold ? "bold" : "normal", fill: bold ? "#111" : TEXT_COLOR });
    },
  });

  return { animation: false, grid, xAxis, yAxis, series };
}

export default function App() {
  const ref = useRef<HTMLDivElement>(null);
  useEffect(() => {
    if (!ref.current) return;
    const chart = echarts.init(ref.current, undefined, { renderer: "svg" });
    chart.setOption(buildOption() as any);
    return () => chart.dispose();
  }, []);
  return <div ref={ref} style={{ position: "absolute", left: 0, top: 0, width: 1200, height: 698, background: "#fff" }} />;
}
